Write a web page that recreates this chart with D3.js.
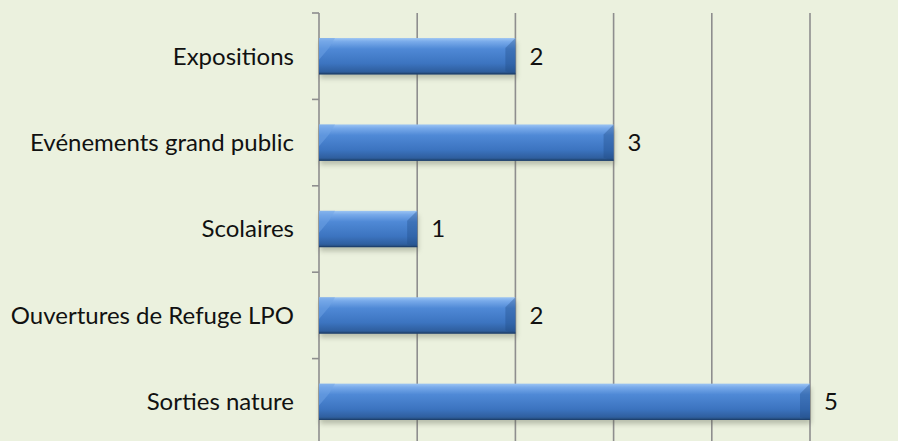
<!DOCTYPE html>
<html>
<head>
<meta charset="utf-8">
<script src="https://cdn.jsdelivr.net/npm/d3@7"></script>
<style>
  html, body { margin: 0; padding: 0; background: #EBF1DE; }
  svg { display: block; }
  text { font-family: Lato, "Open Sans", sans-serif; fill: #111; }
</style>
</head>
<body>
<div id="chart"></div>
<script>
(() => {

// data, top to bottom as in the picture
const categories = ['Expositions', 'Evénements grand public', 'Scolaires', 'Ouvertures de Refuge LPO', 'Sorties nature'];
const values = [2, 3, 1, 2, 5];
const xTicks = [0, 1, 2, 3, 4, 5];

const data = categories.map((c, i) => ({cat: c, value: values[i]}));

const config = {
  width: 898,
  height: 441,
  left: 319,
  right: 810,
  top: 13,
  bottom: 445,
  bg: '#EBF1DE',
  gridColor: '#8E8E8E',
  fontSize: 24
};

const svg = d3.select('#chart')
  .append('svg')
  .attr('width', config.width)
  .attr('height', config.height);

const defs = svg.append('defs');

const grad = defs.append('linearGradient')
  .attr('id', 'barGrad')
  .attr('x1', 0).attr('y1', 0).attr('x2', 0).attr('y2', 1);
[[0, '#9CC5F3'], [0.1, '#78AAEA'], [0.3, '#4F89D6'], [0.7, '#3C74C0'], [0.92, '#2F5F9F'], [1, '#22456F']]
  .forEach(s => grad.append('stop').attr('offset', s[0]).attr('stop-color', s[1]));

const shadow = defs.append('filter')
  .attr('id', 'shadow')
  .attr('x', '-5%').attr('y', '-30%').attr('width', '110%').attr('height', '180%');
shadow.append('feGaussianBlur').attr('stdDeviation', 2.5);

const scaleX = d3.scaleLinear()
  .domain([0, 5])
  .range([config.left, config.right]);

const scaleY = d3.scaleBand()
  .domain(categories)
  .range([config.top, config.bottom])
  .paddingInner(0.58)
  .paddingOuter(0.29);

// vertical gridlines
svg.append('g')
  .selectAll('line')
  .data(xTicks)
  .enter()
  .append('line')
  .attr('x1', d => scaleX(d))
  .attr('x2', d => scaleX(d))
  .attr('y1', config.top)
  .attr('y2', config.bottom)
  .attr('stroke', config.gridColor)
  .attr('stroke-width', 1.6);

// category tick marks on band edges
const step = scaleY.step();
const edges = d3.range(categories.length + 1).map(i => config.top + i * step);
svg.append('g')
  .selectAll('line')
  .data(edges)
  .enter()
  .append('line')
  .attr('x1', config.left - 7)
  .attr('x2', config.left)
  .attr('y1', d => d)
  .attr('y2', d => d)
  .attr('stroke', config.gridColor)
  .attr('stroke-width', 1.6);

const bars = svg.append('g')
  .selectAll('g')
  .data(data)
  .enter()
  .append('g');

const bw = scaleY.bandwidth();

// soft shadow below
bars.append('rect')
  .attr('x', scaleX(0) + 1)
  .attr('y', d => scaleY(d.cat) + 4)
  .attr('width', d => scaleX(d.value) - scaleX(0))
  .attr('height', bw)
  .attr('fill', '#5a6050')
  .attr('opacity', 0.35)
  .attr('filter', 'url(#shadow)');

bars.append('rect')
  .attr('x', scaleX(0))
  .attr('y', d => scaleY(d.cat))
  .attr('width', d => scaleX(d.value) - scaleX(0))
  .attr('height', bw)
  .attr('fill', 'url(#barGrad)');

// bevel: lighter triangle top-left, darker corner on the right end
const bev = 10;
bars.append('path')
  .attr('d', d => {
    const x0 = scaleX(0), y0 = scaleY(d.cat);
    return `M${x0},${y0} L${x0 + bev + 6},${y0} L${x0 + bev},${y0 + bev} L${x0},${y0 + bw * 0.6} Z`;
  })
  .attr('fill', '#6FA3E6')
  .attr('opacity', 0.5);

bars.append('path')
  .attr('d', d => {
    const x1 = scaleX(d.value), y0 = scaleY(d.cat);
    return `M${x1},${y0} L${x1 - bev},${y0 + bev} L${x1 - bev},${y0 + bw - 3} L${x1},${y0 + bw} Z`;
  })
  .attr('fill', '#1F4B85')
  .attr('opacity', 0.35);

bars.append('line')
  .attr('x1', scaleX(0))
  .attr('x2', d => scaleX(d.value))
  .attr('y1', d => scaleY(d.cat) + bw - 0.5)
  .attr('y2', d => scaleY(d.cat) + bw - 0.5)
  .attr('stroke', '#1E416F')
  .attr('stroke-width', 1);

// value labels
bars.append('text')
  .attr('x', d => scaleX(d.value) + 14)
  .attr('y', d => scaleY(d.cat) + bw / 2)
  .attr('dy', '0.35em')
  .style('font-size', config.fontSize + 'px')
  .text(d => d.value);

// category labels
svg.append('g')
  .selectAll('text')
  .data(categories)
  .enter()
  .append('text')
  .attr('x', config.left - 25)
  .attr('y', d => scaleY(d) + bw / 2)
  .attr('dy', '0.35em')
  .attr('text-anchor', 'end')
  .style('font-size', config.fontSize + 'px')
  .text(d => d);

})();
</script>
</body>
</html>
